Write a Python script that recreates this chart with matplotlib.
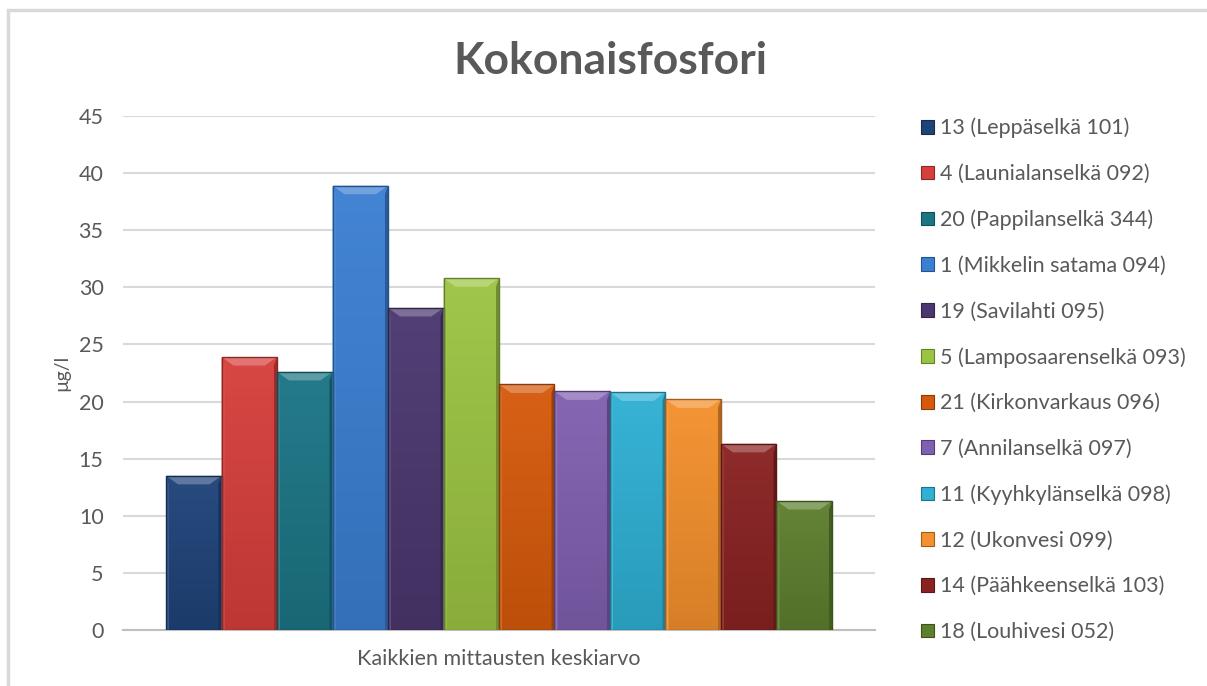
"""Kokonaisfosfori: average total phosphorus per sampling site (bevelled bar chart)."""
import numpy as np
import matplotlib.pyplot as plt
from matplotlib.patches import Polygon, Rectangle, Patch
from matplotlib.colors import to_rgb

plt.rcParams['font.family'] = ['Lato', 'DejaVu Sans']

sites = ['13 (Leppäselkä 101)', '4 (Launialanselkä 092)', '20 (Pappilanselkä 344)',
         '1 (Mikkelin satama 094)', '19 (Savilahti 095)', '5 (Lamposaarenselkä 093)',
         '21 (Kirkonvarkaus 096)', '7 (Annilanselkä 097)', '11 (Kyyhkylänselkä 098)',
         '12 (Ukonvesi 099)', '14 (Päähkeenselkä 103)', '18 (Louhivesi 052)']
values = [13.5, 23.9, 22.6, 38.9, 28.2, 30.8, 21.5, 20.9, 20.8, 20.2, 16.3, 11.3]
colors = ['#1F4379', '#D63F3C', '#1C7585', '#3B7FD2', '#4B376F', '#9CC443',
          '#D65A0C', '#8060B0', '#2FB0D4', '#F4902D', '#8A2222', '#5E7F2E']
category = 'Kaikkien mittausten keskiarvo'
yticks = [0, 5, 10, 15, 20, 25, 30, 35, 40, 45]

W, H = 1207, 686
fig = plt.figure(figsize=(W / 100, H / 100), dpi=100)
ax = fig.add_axes([123 / W, 1 - 630 / H, 752 / W, 514 / H])

def shade(c, f):
    r = np.array(to_rgb(c))
    if f >= 0:
        return tuple(r + (1 - r) * f)
    return tuple(r * (1 + f))

bw = 0.0738
xs = 0.5 + (np.arange(len(values)) - (len(values) - 1) / 2) * bw
bars = ax.bar(xs, values, width=bw, color=colors, zorder=3, linewidth=0)

# bevel on each bar: soft vertical gradient, light top slope, side strips, dark outline
bx, by = 0.016, 0.75
for b, c in zip(bars, colors):
    x0, x1 = b.get_x(), b.get_x() + b.get_width()
    top = b.get_height()
    t = np.linspace(0, 1, 64)[:, None, None]
    grad = np.array(shade(c, 0.04))[None, None, :] * t + np.array(shade(c, -0.12))[None, None, :] * (1 - t)
    im = ax.imshow(grad, extent=[x0, x1, 0, top], origin='lower', aspect='auto', zorder=3.5)
    im.set_clip_path(b)
    ax.add_patch(Polygon([(x0, top), (x1, top), (x1 - bx, top - by), (x0 + bx, top - by)],
                         closed=True, fc=shade(c, 0.28), ec='none', zorder=4))
    ax.add_patch(Polygon([(x0, top), (x0 + 0.004, top - by), (x0 + 0.004, 0), (x0, 0)],
                         closed=True, fc=shade(c, 0.10), ec='none', zorder=4))
    ax.add_patch(Polygon([(x1, top), (x1 - 0.004, top - by), (x1 - 0.004, 0), (x1, 0)],
                         closed=True, fc=shade(c, -0.28), ec='none', zorder=4))
    ax.add_patch(Rectangle((x0, 0), x1 - x0, top, fill=False, ec=shade(c, -0.35),
                           lw=1.0, zorder=5))

ax.set_xlim(0, 1)
ax.set_ylim(0, 45)
ax.set_yticks(yticks)
ax.set_xticks([0.5])
ax.set_xticklabels([category])
ax.tick_params(axis='both', length=0, labelsize=15.5, colors='#595959')
ax.tick_params(axis='y', pad=14)
ax.tick_params(axis='x', pad=14)
ax.yaxis.grid(True, color='#D9D9D9', lw=1.5, zorder=0)
for s in ['top', 'right', 'left']:
    ax.spines[s].set_visible(False)
ax.spines['bottom'].set_color('#BFBFBF')
ax.spines['bottom'].set_linewidth(1.5)
ax.set_ylabel('µg/l', fontsize=14, color='#595959', labelpad=6)

fig.text(610 / W, 1 - 61 / H, 'Kokonaisfosfori', ha='center', va='center',
         fontsize=32, fontweight='bold', color='#595959')

handles = [Patch(fc=c, ec=shade(c, -0.35), lw=0.8) for c in colors]
fig.legend(handles, sites, loc='upper left', bbox_to_anchor=(910 / W, 1 - 107 / H),
           frameon=False, fontsize=15.5, labelcolor='#595959', labelspacing=1.19,
           handlelength=0.6, handleheight=0.6, handletextpad=0.3, borderpad=0)

# outer chart frame
fig.patches.append(Rectangle((8 / W, -0.05), 1.1, 1 - 10 / H + 0.05, transform=fig.transFigure,
                             fill=False, ec='#D9D9D9', lw=2.5))

fig.savefig('out.png', dpi=100, facecolor='white')
